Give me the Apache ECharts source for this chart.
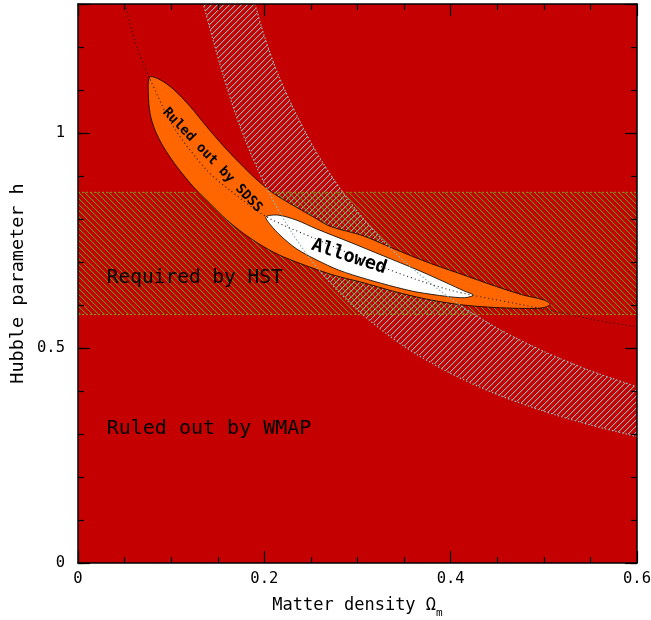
<!DOCTYPE html>
<html><head><meta charset="utf-8">
<script src="https://cdn.jsdelivr.net/npm/echarts@6/dist/echarts.min.js"></script>
<style>html,body{margin:0;padding:0;background:#fff}#c{width:651px;height:620px}</style>
</head><body><div id="c"></div>
<script>
// ---------- data ----------
const omegaRange = [0, 0.6];
const hRange = [0, 1.3];
const xTickValues = [0, 0.2, 0.4, 0.6];
const xTickLabels = ['0', '0.2', '0.4', '0.6'];
const yTickValues = [0, 0.5, 1];
const yTickLabels = ['0', '0.5', '1'];

// HST band (h range)
const hstBand = [0.578, 0.862];

// shape-parameter band (hatched) edges, [Omega_m, h]
const gammaUpper = [[0.190,1.300],[0.200,1.225],[0.215,1.135],[0.235,1.040],[0.260,0.940],[0.290,0.845],[0.320,0.767],[0.350,0.702],[0.400,0.615],[0.450,0.546],[0.500,0.492],[0.550,0.447],[0.600,0.410]];
const gammaLower = [[0.600,0.294],[0.550,0.321],[0.500,0.353],[0.450,0.392],[0.400,0.441],[0.350,0.504],[0.300,0.588],[0.260,0.678],[0.230,0.767],[0.200,0.883],[0.175,1.009],[0.155,1.140],[0.1345,1.300]];

// SDSS region outline
const sdssUpper = [[0.077,1.130],[0.088,1.124],[0.1023,1.102],[0.1202,1.062],[0.138,1.015],[0.156,0.970],[0.174,0.929],[0.192,0.891],[0.2096,0.860],[0.2275,0.836],[0.2525,0.805],[0.2705,0.783],[0.306,0.761],[0.342,0.728],[0.378,0.697],[0.4136,0.670],[0.449,0.643],[0.478,0.623],[0.4995,0.612],[0.5066,0.602]];
const sdssLower = [[0.500,0.594],[0.485,0.592],[0.449,0.594],[0.4136,0.600],[0.378,0.612],[0.342,0.630],[0.306,0.652],[0.2705,0.672],[0.2204,0.712],[0.199,0.736],[0.1774,0.767],[0.1596,0.798],[0.1417,0.836],[0.1238,0.875],[0.106,0.922],[0.0916,0.968],[0.0826,1.007],[0.0773,1.046],[0.0755,1.092]];

// Allowed region outline
const allowedUpper = [[0.2018,0.805],[0.215,0.809],[0.235,0.797],[0.256,0.777],[0.292,0.746],[0.328,0.714],[0.364,0.682],[0.396,0.651],[0.414,0.633],[0.4243,0.623]];
const allowedLower = [[0.415,0.617],[0.396,0.620],[0.364,0.630],[0.342,0.641],[0.310,0.660],[0.280,0.681],[0.256,0.705],[0.235,0.730],[0.218,0.760],[0.206,0.788]];

// dotted degeneracy curve
const degeneracyLine = [[0.0504,1.300],[0.063,1.200],[0.077,1.127],[0.1023,1.015],[0.138,0.914],[0.163,0.867],[0.2025,0.805],[0.256,0.753],[0.328,0.687],[0.399,0.635],[0.471,0.603],[0.510,0.586],[0.555,0.565],[0.600,0.549]];

// annotations
const annoText = ['Required by HST', 'Ruled out by WMAP', 'Ruled out by SDSS', 'Allowed'];
const annoOmega = [0.0308, 0.0308, 0.1442, 0.2909];
const annoH = [0.664, 0.313, 0.937, 0.712];

// ---------- styles ----------
const MONO = '"DejaVu Sans Mono"';
const RED = '#c40000', ORANGE = '#ff6600';
const annoStyle = [
  {font: '19.5px ' + MONO, align: 'left', rot: 0},
  {font: '20px ' + MONO, align: 'left', rot: 0},
  {font: 'bold 13.5px ' + MONO, align: 'center', rot: -46.5},
  {font: 'bold 18.5px ' + MONO, align: 'center', rot: -18}
];

// crisp hatch tile: 1 solid pixel per row plus a faint neighbour
function hatch(color, soft, dir, size) {
  const c = document.createElement('canvas');
  c.width = size; c.height = size;
  const g = c.getContext('2d');
  for (let i = 0; i < size; i++) {
    const row = dir === '/' ? size - 1 - i : i;
    g.fillStyle = color; g.fillRect(i, row, 1, 1);
    g.fillStyle = soft; g.fillRect((i + 1) % size, row, 1, 1);
  }
  return c;
}
const grayHatch = {image: hatch('#9aa6aa', 'rgba(140,152,158,0.4)', '/', 6), repeat: 'repeat'};
const hstHatch = {image: hatch('#74881a', 'rgba(110,135,20,0.35)', '\\', 6), repeat: 'repeat'};

function polySeries(name, pts, st, z) {
  return {
    type: 'custom', name: name, coordinateSystem: 'cartesian2d',
    data: [pts[0]], z: z, silent: true,
    renderItem: function (params, api) {
      return {
        type: 'polygon',
        shape: {points: pts.map(function (p) { return api.coord(p); }), smooth: st.smooth || 0},
        style: {fill: st.fill, stroke: st.stroke || null, lineWidth: st.lineWidth || 0}
      };
    }
  };
}
function lineSeries(name, pts, color, width, dash, z, smooth) {
  return {type: 'line', name: name, data: pts, symbol: 'none', showSymbol: false, smooth: smooth || false,
    lineStyle: {color: color, width: width, type: dash}, z: z, silent: true};
}

const hstPoly = [[omegaRange[0], hstBand[0]], [omegaRange[1], hstBand[0]], [omegaRange[1], hstBand[1]], [omegaRange[0], hstBand[1]]];

function fmtFrom(values, labels) {
  return function (v) {
    for (let i = 0; i < values.length; i++) if (Math.abs(values[i] - v) < 1e-9) return labels[i];
    return '';
  };
}

const lineSt = {color: '#000', width: 1.5};
const tickSt = {color: '#000', width: 1.2};
const labelSt = {fontFamily: MONO, fontSize: 15.5, color: '#000'};

function xAx(pos, showLabel) {
  return {
    type: 'value', position: pos, min: omegaRange[0], max: omegaRange[1], interval: 0.2,
    axisLine: {show: true, onZero: false, lineStyle: lineSt},
    axisTick: {show: true, inside: true, length: 12, lineStyle: tickSt},
    minorTick: {show: true, splitNumber: 4, length: 6, lineStyle: tickSt},
    axisLabel: Object.assign({show: showLabel, margin: 8, formatter: fmtFrom(xTickValues, xTickLabels)}, labelSt),
    splitLine: {show: false}, minorSplitLine: {show: false}, z: 10, nameMoveOverlap: false
  };
}
function yAx(pos, interval, len, showLine, showLabel) {
  return {
    type: 'value', position: pos, min: hRange[0], max: hRange[1], interval: interval,
    axisLine: {show: showLine, onZero: false, lineStyle: lineSt},
    axisTick: {show: true, inside: true, length: len, lineStyle: tickSt},
    axisLabel: Object.assign({show: showLabel, margin: 13, formatter: fmtFrom(yTickValues, yTickLabels)}, labelSt),
    splitLine: {show: false}, z: 10, nameMoveOverlap: false
  };
}

const xBottom = xAx('bottom', true);
xBottom.name = '{n|Matter density Ω}{s|m}';
xBottom.nameLocation = 'middle';
xBottom.nameGap = 29;
xBottom.nameTextStyle = {fontFamily: MONO, fontSize: 17, color: '#000',
  rich: {n: {fontFamily: MONO, fontSize: 17, color: '#000'},
         s: {fontFamily: MONO, fontSize: 11, color: '#000', padding: [16, 0, 0, 0]}}};

const yLeft = yAx('left', 0.1, 6, true, true);
yLeft.name = 'Hubble parameter h';
yLeft.nameLocation = 'middle';
yLeft.nameGap = 50;
yLeft.nameTextStyle = {fontFamily: MONO, fontSize: 18.5, color: '#000'};

const option = {
  animation: false,
  backgroundColor: '#ffffff',
  grid: {left: 78, right: 14, top: 4, bottom: 57, show: true, backgroundColor: RED, borderWidth: 0,
         containLabel: false, outerBoundsMode: 'none'},
  xAxis: [xBottom, xAx('top', false)],
  yAxis: [yLeft, yAx('left', 0.5, 12, false, false), yAx('right', 0.1, 6, true, false), yAx('right', 0.5, 12, false, false)],
  series: [
    polySeries('Gamma band', gammaUpper.concat(gammaLower), {fill: grayHatch}, 2),
    polySeries('HST band', hstPoly, {fill: hstHatch}, 3),
    lineSeries('HST low', [[omegaRange[0], hstBand[0]], [omegaRange[1], hstBand[0]]], '#8a9a10', 1, [2, 2], 4),
    lineSeries('HST high', [[omegaRange[0], hstBand[1]], [omegaRange[1], hstBand[1]]], '#8a9a10', 1, [2, 2], 4),
    polySeries('SDSS', sdssUpper.concat(sdssLower), {fill: ORANGE, stroke: '#000', lineWidth: 0.8, smooth: 0.3}, 5),
    polySeries('Allowed', allowedUpper.concat(allowedLower), {fill: '#ffffff', stroke: '#000', lineWidth: 0.8, smooth: 0.3}, 6),
    lineSeries('Gamma upper', gammaUpper, '#94b4b8', 1.2, [1.5, 2], 7, 0.3),
    lineSeries('Gamma lower', gammaLower, '#94b4b8', 1.2, [1.5, 2], 7, 0.3),
    lineSeries('Degeneracy', degeneracyLine, '#1a1a1a', 1.1, [1, 3], 8, 0.3),
    {
      type: 'custom', name: 'labels', coordinateSystem: 'cartesian2d', z: 9, silent: true,
      data: annoOmega.map(function (x, i) { return [x, annoH[i]]; }),
      renderItem: function (params, api) {
        const i = params.dataIndex;
        const p = api.coord([api.value(0), api.value(1)]);
        const s = annoStyle[i];
        return {type: 'text', x: p[0], y: p[1], rotation: s.rot * Math.PI / 180,
          style: {text: annoText[i], font: s.font, fill: '#000', align: s.align, verticalAlign: 'middle'}};
      }
    }
  ]
};

const chart = echarts.init(document.getElementById('c'), null, {renderer: 'canvas'});
chart.setOption(option);
</script>
</body></html>
